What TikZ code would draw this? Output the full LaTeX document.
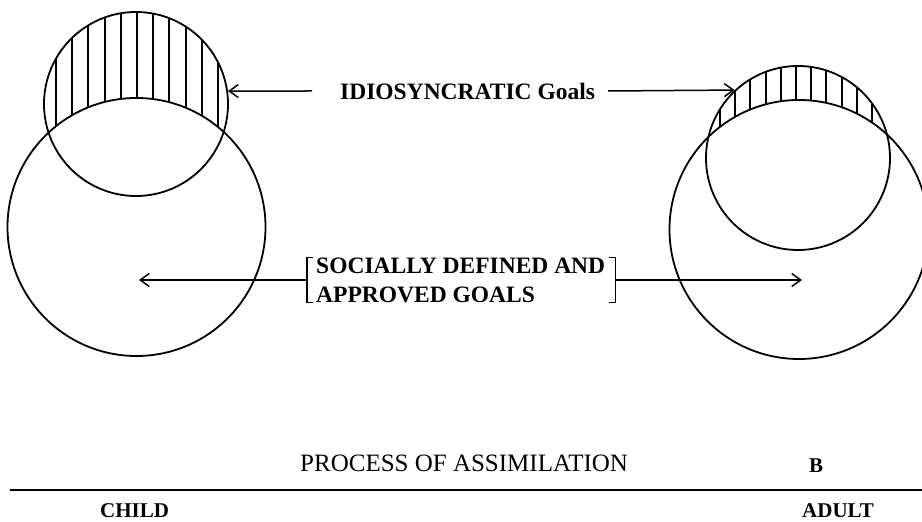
\documentclass[tikz,border=0pt]{standalone}
\usepackage{fontspec}
\setmainfont{Liberation Serif}
\usetikzlibrary{arrows.meta}
\begin{document}
\begin{tikzpicture}[x=1pt,y=1pt,
  ring/.style={circle,draw,line width=1.8pt,inner sep=0pt,minimum size=#1},
  hatch/.style={line width=2pt},
  pointer/.style={line width=1.5pt,-{Straight Barb[length=9pt,width=13pt,line width=1.5pt]}},
  brace/.style={line width=1.3pt},
  lbl/.style={inner sep=0pt,anchor=west,font=\bfseries\fontsize{23.5}{29}\selectfont},
  caption/.style={inner sep=0pt,anchor=west,font=\fontsize{25}{30}\selectfont},
  side/.style={inner sep=0pt,anchor=base west,font=\bfseries\fontsize{21}{25}\selectfont},
]
\useasboundingbox (0,0) rectangle (922,522);

% ---- child: idiosyncratic goals (small) over social goals (large)
\begin{scope}
  \clip (136,418) circle (92);
  \foreach \x in {56,72.2,...,219} {
    \pgfmathsetmacro\yb{295+10*sqrt(12.9^2-((\x-136.5)/10)^2)}
    \draw[hatch] (\x,\yb) -- (\x,515);
  }
\end{scope}
\node[ring=184pt] (childIdio) at (136,418) {};
\node[ring=258pt] (childSoc) at (136.5,295) {};

% ---- adult
\begin{scope}
  \clip (798,364) circle (92);
  \foreach \x in {720,735.2,...,873} {
    \pgfmathsetmacro\yb{292.5+10*sqrt(12.95^2-((\x-799)/10)^2)}
    \draw[hatch] (\x,\yb) -- (\x,460);
  }
\end{scope}
\node[ring=184pt] (adultIdio) at (798,364) {};
\node[ring=259pt] (adultSoc) at (799,292.5) {};

% ---- labels and pointers
\node[lbl] (idio) at (340,431) {IDIOSYNCRATIC Goals};
\draw[pointer] ([xshift=-28pt]idio.west) -- (childIdio.8.1);
\draw[pointer] ([xshift=13pt]idio.east) -- (adultIdio.133.3);

\node[lbl,align=left] (soc) at (316,242) {SOCIALLY DEFINED AND\\APPROVED GOALS};
\draw[brace] ([xshift=-3pt]soc.north west) -- ([xshift=-9pt]soc.north west)
  -- ([xshift=-9pt]soc.south west) -- ([xshift=-3pt]soc.south west);
\draw[brace] ([xshift=4pt]soc.north east) -- ([xshift=10pt]soc.north east)
  -- ([xshift=10pt]soc.south east) -- ([xshift=4pt]soc.south east);
\coordinate (childGoal) at (139,242);
\coordinate (adultGoal) at (802,242);
\draw[pointer] ([xshift=-9pt]soc.west) -- (childGoal);
\draw[pointer] ([xshift=10pt]soc.east) -- (adultGoal);

% ---- time axis
\node[caption] (proc) at (300,59) {PROCESS OF ASSIMILATION};
\node[side] (panel) at (809,49) {B};
\coordinate (ruleL) at (10,32);
\coordinate (ruleR) at (922,32);
\draw[line width=2pt] (ruleL) -- (ruleR);
\node[side] (child) at (100,4) {CHILD};
\node[side] (adult) at (802,4) {ADULT};
\end{tikzpicture}
\end{document}
